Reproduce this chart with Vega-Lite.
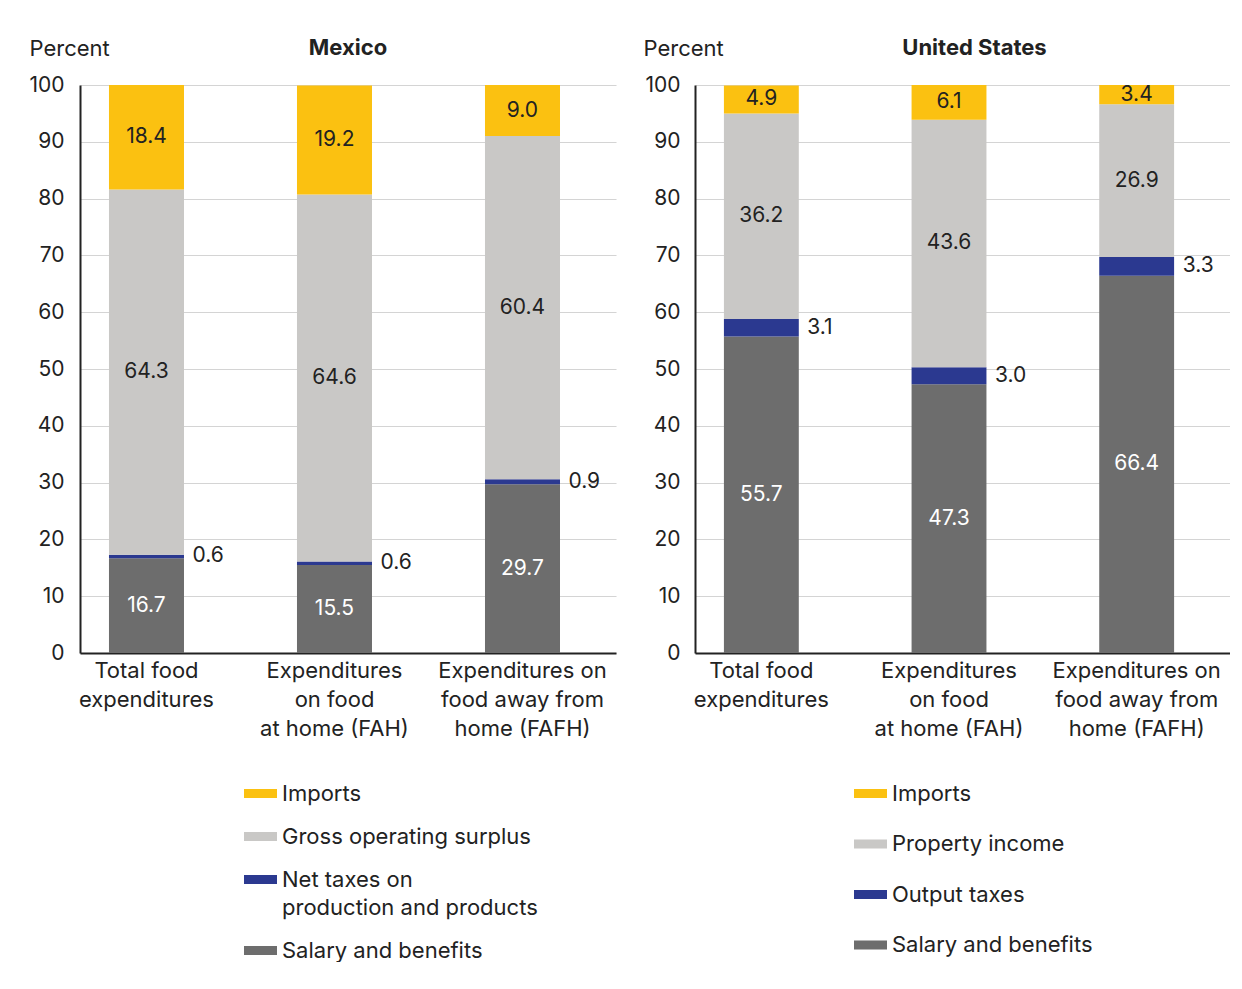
{
  "$schema": "https://vega.github.io/schema/vega-lite/v6.json",
  "padding": {"left": 28, "top": 37, "right": 0, "bottom": 0},
  "background": "white",
  "config": {"font": "Inter", "view": {"stroke": null}, "style": {"guide-label": {"lineHeight": 28}}},
  "datasets": {
    "rows": [
      {"country": "Mexico", "cat": "Total food|expenditures", "comp": "Salary and benefits", "ord": 1, "value": 16.7},
      {"country": "Mexico", "cat": "Total food|expenditures", "comp": "Net taxes on|production and products", "ord": 2, "value": 0.6},
      {"country": "Mexico", "cat": "Total food|expenditures", "comp": "Gross operating surplus", "ord": 3, "value": 64.3},
      {"country": "Mexico", "cat": "Total food|expenditures", "comp": "Imports", "ord": 4, "value": 18.4},
      {"country": "Mexico", "cat": "Expenditures|on food|at home (FAH)", "comp": "Salary and benefits", "ord": 1, "value": 15.5},
      {"country": "Mexico", "cat": "Expenditures|on food|at home (FAH)", "comp": "Net taxes on|production and products", "ord": 2, "value": 0.6},
      {"country": "Mexico", "cat": "Expenditures|on food|at home (FAH)", "comp": "Gross operating surplus", "ord": 3, "value": 64.6},
      {"country": "Mexico", "cat": "Expenditures|on food|at home (FAH)", "comp": "Imports", "ord": 4, "value": 19.2},
      {"country": "Mexico", "cat": "Expenditures on|food away from|home (FAFH)", "comp": "Salary and benefits", "ord": 1, "value": 29.7},
      {"country": "Mexico", "cat": "Expenditures on|food away from|home (FAFH)", "comp": "Net taxes on|production and products", "ord": 2, "value": 0.9},
      {"country": "Mexico", "cat": "Expenditures on|food away from|home (FAFH)", "comp": "Gross operating surplus", "ord": 3, "value": 60.4},
      {"country": "Mexico", "cat": "Expenditures on|food away from|home (FAFH)", "comp": "Imports", "ord": 4, "value": 9.0},
      {"country": "United States", "cat": "Total food|expenditures", "comp": "Salary and benefits", "ord": 1, "value": 55.7},
      {"country": "United States", "cat": "Total food|expenditures", "comp": "Output taxes", "ord": 2, "value": 3.1},
      {"country": "United States", "cat": "Total food|expenditures", "comp": "Property income", "ord": 3, "value": 36.2},
      {"country": "United States", "cat": "Total food|expenditures", "comp": "Imports", "ord": 4, "value": 4.9},
      {"country": "United States", "cat": "Expenditures|on food|at home (FAH)", "comp": "Salary and benefits", "ord": 1, "value": 47.3},
      {"country": "United States", "cat": "Expenditures|on food|at home (FAH)", "comp": "Output taxes", "ord": 2, "value": 3.0},
      {"country": "United States", "cat": "Expenditures|on food|at home (FAH)", "comp": "Property income", "ord": 3, "value": 43.6},
      {"country": "United States", "cat": "Expenditures|on food|at home (FAH)", "comp": "Imports", "ord": 4, "value": 6.1},
      {"country": "United States", "cat": "Expenditures on|food away from|home (FAFH)", "comp": "Salary and benefits", "ord": 1, "value": 66.4},
      {"country": "United States", "cat": "Expenditures on|food away from|home (FAFH)", "comp": "Output taxes", "ord": 2, "value": 3.3},
      {"country": "United States", "cat": "Expenditures on|food away from|home (FAFH)", "comp": "Property income", "ord": 3, "value": 26.9},
      {"country": "United States", "cat": "Expenditures on|food away from|home (FAFH)", "comp": "Imports", "ord": 4, "value": 3.4}
    ]
  },
  "data": {"name": "rows"},
  "spacing": 79,
  "bounds": "flush",
  "resolve": {"scale": {"color": "independent"}},
  "hconcat": [
    {
      "width": 536,
      "height": 568,
      "title": {"text": "Mexico", "fontSize": 22, "fontWeight": "bold", "color": "#222", "offset": -23, "anchor": "middle"},
      "transform": [{"filter": "datum.country === 'Mexico'"}],
      "encoding": {
        "x": {
          "field": "cat", "type": "nominal",
          "sort": ["Total food|expenditures", "Expenditures|on food|at home (FAH)", "Expenditures on|food away from|home (FAFH)"],
          "scale": {"paddingInner": 0.601, "paddingOuter": 0.226, "align": 0.341},
          "axis": {"title": null, "labelAngle": 0, "labelExpr": "split(datum.label, '|')", "labelFontSize": 22, "labelLineHeight": 29, "labelColor": "#222", "ticks": false, "domainColor": "#222", "domainWidth": 2, "labelPadding": 7, "labelLimit": 300}
        }
      },
      "layer": [
        {
          "mark": {"type": "bar"},
          "encoding": {
            "y": {"field": "value", "type": "quantitative", "stack": "zero", "title": "Percent",
              "scale": {"domain": [0, 100]},
              "axis": {"values": [0, 10, 20, 30, 40, 50, 60, 70, 80, 90, 100], "titleAngle": 0, "titleAlign": "left", "titleBaseline": "middle", "titleX": -51, "titleY": -37, "titleFontSize": 22, "titleFontWeight": "normal", "titleColor": "#222", "labelFontSize": 21, "labelColor": "#222", "labelPadding": 16, "ticks": false, "domainColor": "#222", "domainWidth": 2, "grid": true, "gridColor": "#d4d4d4", "gridWidth": 1.2}},
            "color": {"field": "comp", "type": "nominal",
              "scale": {"domain": ["Imports", "Gross operating surplus", "Net taxes on|production and products", "Salary and benefits"], "range": ["#FBC111", "#C9C8C6", "#2B3990", "#6D6D6D"]},
              "legend": {"orient": "none", "legendX": 164, "legendY": 692, "title": null, "direction": "vertical", "labelFontSize": 22, "labelColor": "#222", "symbolType": "M-1,-0.27L1,-0.27L1,0.27L-1,0.27Z", "symbolSize": 1089, "symbolStrokeWidth": 0, "labelOffset": 5, "rowPadding": 15, "labelExpr": "split(datum.label, '|')", "labelLimit": 400, "padding": 0}},
            "order": {"field": "ord", "type": "quantitative"}
          }
        },
        {
          "transform": [
            {"stack": "value", "groupby": ["cat"], "sort": [{"field": "ord", "order": "ascending"}], "as": ["v0", "v1"]},
            {"fold": ["v0", "v1"], "as": ["edge", "pos"]},
            {"aggregate": [{"op": "mean", "field": "pos", "as": "mid"}], "groupby": ["cat", "comp", "value", "ord"]},
            {"filter": "datum.ord !== 2"}
          ],
          "mark": {"type": "text", "fontSize": 21, "baseline": "middle"},
          "encoding": {
            "y": {"field": "mid", "type": "quantitative", "title": "Percent"},
            "text": {"field": "value", "type": "quantitative", "format": ".1f"},
            "color": {"condition": {"test": "datum.ord === 1", "value": "#ffffff"}, "value": "#222222"}
          }
        },
        {
          "transform": [
            {"stack": "value", "groupby": ["cat"], "sort": [{"field": "ord", "order": "ascending"}], "as": ["v0", "v1"]},
            {"fold": ["v0", "v1"], "as": ["edge", "pos"]},
            {"aggregate": [{"op": "mean", "field": "pos", "as": "mid"}], "groupby": ["cat", "comp", "value", "ord"]},
            {"filter": "datum.ord === 2"}
          ],
          "mark": {"type": "text", "fontSize": 21, "baseline": "middle", "align": "left", "dx": 46, "color": "#222222"},
          "encoding": {
            "y": {"field": "mid", "type": "quantitative", "title": "Percent"},
            "text": {"field": "value", "type": "quantitative", "format": ".1f"}
          }
        }
      ]
    },
    {
      "width": 535,
      "height": 568,
      "title": {"text": "United States", "fontSize": 22, "fontWeight": "bold", "color": "#222", "offset": -23, "anchor": "middle", "dx": 12},
      "transform": [{"filter": "datum.country === 'United States'"}],
      "encoding": {
        "x": {
          "field": "cat", "type": "nominal",
          "sort": ["Total food|expenditures", "Expenditures|on food|at home (FAH)", "Expenditures on|food away from|home (FAFH)"],
          "scale": {"paddingInner": 0.601, "paddingOuter": 0.226, "align": 0.341},
          "axis": {"title": null, "labelAngle": 0, "labelExpr": "split(datum.label, '|')", "labelFontSize": 22, "labelLineHeight": 29, "labelColor": "#222", "ticks": false, "domainColor": "#222", "domainWidth": 2, "labelPadding": 7, "labelLimit": 300}
        }
      },
      "layer": [
        {
          "mark": {"type": "bar"},
          "encoding": {
            "y": {"field": "value", "type": "quantitative", "stack": "zero", "title": "Percent",
              "scale": {"domain": [0, 100]},
              "axis": {"values": [0, 10, 20, 30, 40, 50, 60, 70, 80, 90, 100], "titleAngle": 0, "titleAlign": "left", "titleBaseline": "middle", "titleX": -52, "titleY": -37, "titleFontSize": 22, "titleFontWeight": "normal", "titleColor": "#222", "labelFontSize": 21, "labelColor": "#222", "labelPadding": 15, "ticks": false, "domainColor": "#222", "domainWidth": 2, "grid": true, "gridColor": "#d4d4d4", "gridWidth": 1.2}},
            "color": {"field": "comp", "type": "nominal",
              "scale": {"domain": ["Imports", "Property income", "Output taxes", "Salary and benefits"], "range": ["#FBC111", "#C9C8C6", "#2B3990", "#6D6D6D"]},
              "legend": {"orient": "none", "legendX": 159, "legendY": 692, "title": null, "direction": "vertical", "labelFontSize": 22, "labelColor": "#222", "symbolType": "M-1,-0.27L1,-0.27L1,0.27L-1,0.27Z", "symbolSize": 1089, "symbolStrokeWidth": 0, "labelOffset": 5, "rowPadding": 22.5, "labelLimit": 400, "padding": 0}},
            "order": {"field": "ord", "type": "quantitative"}
          }
        },
        {
          "transform": [
            {"stack": "value", "groupby": ["cat"], "sort": [{"field": "ord", "order": "ascending"}], "as": ["v0", "v1"]},
            {"fold": ["v0", "v1"], "as": ["edge", "pos"]},
            {"aggregate": [{"op": "mean", "field": "pos", "as": "mid"}], "groupby": ["cat", "comp", "value", "ord"]},
            {"filter": "datum.ord !== 2"}
          ],
          "mark": {"type": "text", "fontSize": 21, "baseline": "middle"},
          "encoding": {
            "y": {"field": "mid", "type": "quantitative", "title": "Percent"},
            "text": {"field": "value", "type": "quantitative", "format": ".1f"},
            "color": {"condition": {"test": "datum.ord === 1", "value": "#ffffff"}, "value": "#222222"}
          }
        },
        {
          "transform": [
            {"stack": "value", "groupby": ["cat"], "sort": [{"field": "ord", "order": "ascending"}], "as": ["v0", "v1"]},
            {"fold": ["v0", "v1"], "as": ["edge", "pos"]},
            {"aggregate": [{"op": "mean", "field": "pos", "as": "mid"}], "groupby": ["cat", "comp", "value", "ord"]},
            {"filter": "datum.ord === 2"}
          ],
          "mark": {"type": "text", "fontSize": 21, "baseline": "middle", "align": "left", "dx": 46, "color": "#222222"},
          "encoding": {
            "y": {"field": "mid", "type": "quantitative", "title": "Percent"},
            "text": {"field": "value", "type": "quantitative", "format": ".1f"}
          }
        }
      ]
    }
  ]
}
